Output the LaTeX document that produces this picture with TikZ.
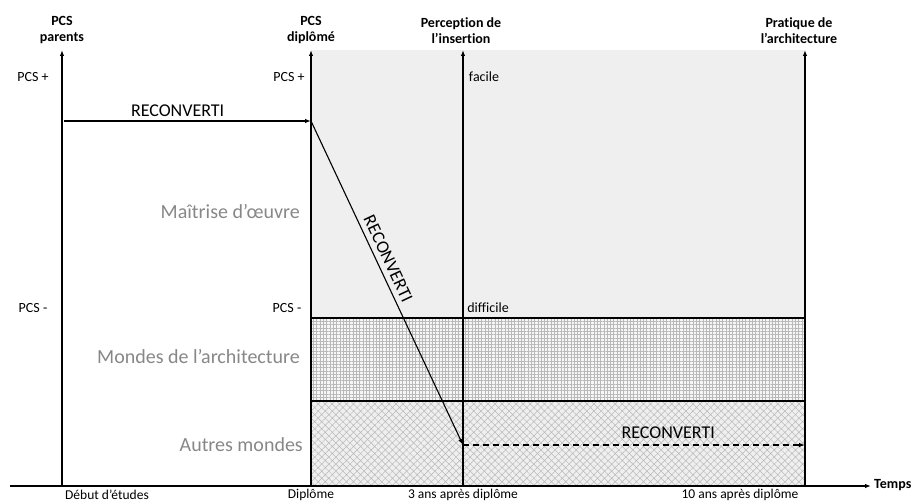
\documentclass[tikz,border=0pt]{standalone}
\usepackage{fontspec}
\setmainfont{Carlito}[Ligatures={NoCommon}]
\usetikzlibrary{arrows.meta,patterns.meta}
\definecolor{boxgray}{RGB}{239,239,239}
\definecolor{gridbg}{RGB}{246,246,246}
\definecolor{regtext}{RGB}{135,135,135}
\definecolor{hatchgray}{RGB}{185,185,185}
\tikzset{
  axis/.style={line width=1.2pt, -{Latex[length=6pt,width=4.5pt]}},
  flow/.style={line width=1.1pt, -{Latex[length=6pt,width=4.5pt]}},
  hdr/.style={font=\fontsize{14}{16}\selectfont\bfseries, align=center, inner sep=0pt, anchor=south},
  lbl/.style={font=\fontsize{14}{16}\selectfont, inner sep=0pt},
  tick/.style={font=\fontsize{13.5}{16}\selectfont, inner sep=0pt},
  region/.style={font=\fontsize{20}{22}\selectfont, text=regtext, anchor=east, inner sep=0pt},
  rec/.style={font=\fontsize{18}{20}\selectfont, inner sep=1pt},
  sep/.style={line width=1.1pt},
}
\begin{document}
\begin{tikzpicture}[x=1pt,y=-1pt]
\useasboundingbox (0,0) rectangle (912,503);
% background regions
\fill[boxgray] (311,50) rectangle (805,318);
\fill[gridbg] (311,318) rectangle (805,401);
\fill[pattern={Hatch[angle=0,distance=3.3pt,line width=0.8pt]}, pattern color=hatchgray] (311,318) rectangle (805,401);
\fill[boxgray] (311,401) rectangle (805,486);
\fill[pattern={Hatch[angle=45,distance=5pt,line width=0.5pt]}, pattern color=hatchgray] (311,401) rectangle (805,486);

% coordinates
\coordinate (o1) at (62,486);  \coordinate (t1) at (62,50);
\coordinate (o2) at (311,486); \coordinate (t2) at (311,50);
\coordinate (o3) at (463,486); \coordinate (t3) at (463,50);
\coordinate (o4) at (805,486); \coordinate (t4) at (805,50);
\coordinate (x0) at (10,486);  \coordinate (x1) at (871,486);
\coordinate (s1a) at (311,318); \coordinate (s1b) at (805,318);
\coordinate (s2a) at (311,401); \coordinate (s2b) at (805,401);
\coordinate (r0) at (64,121); \coordinate (r1) at (311,121);
\coordinate (r2) at (463,445); \coordinate (r3) at (805,445);

% separators
\draw[sep] (s1a) -- (s1b);
\draw[sep] (s2a) -- (s2b);

% axes
\draw[axis] (x0) -- (x1);
\draw[axis] (o1) -- (t1);
\draw[axis] (o2) -- (t2);
\draw[axis] (o3) -- (t3);
\draw[axis] (o4) -- (t4);

% headers
\node[hdr] (h1) at (62,44) {PCS\\parents};
\node[hdr] (h2) at (311,44) {PCS\\diplômé};
\node[hdr] (h3) at (461,44) {Perception de\\l’insertion};
\node[hdr] (h4) at (799,44) {Pratique de\\l’architecture};
\node[font=\fontsize{14}{16}\selectfont\bfseries, anchor=west, inner sep=0pt] (temps) at (874,485) {Temps};

% side labels
\node[lbl] (p1) at (33,77) {PCS +};
\node[lbl] (p2) at (289,77) {PCS +};
\node[lbl] (fa) at (484,77) {facile};
\node[lbl] (m1) at (33,308) {PCS -};
\node[lbl] (m2) at (287,308) {PCS -};
\node[lbl] (di) at (488,308) {difficile};

% region labels
\node[region] (g1) at (300,212) {Maîtrise d’œuvre};
\node[region] (g2) at (300,357) {Mondes de l’architecture};
\node[region] (g3) at (303,445) {Autres mondes};

% bottom labels
\node[tick] (b1) at (107,495) {Début d’études};
\node[tick] (b2) at (311,495) {Diplôme};
\node[tick] (b3) at (463,495) {3 ans après diplôme};
\node[tick] (b4) at (740,495) {10 ans après diplôme};

% reconversion paths
\draw[flow] (r0) -- node[rec, above=3pt, pos=0.46] (l1) {RECONVERTI} (r1);
\draw[flow] (r1) -- node[rec, sloped, above=4pt, pos=0.44] (l2) {RECONVERTI} (r2);
\draw[flow, dashed, dash pattern=on 6pt off 4pt] (r2) -- node[rec, above=5pt, pos=0.6] (l3) {RECONVERTI} (r3);
\end{tikzpicture}
\end{document}
